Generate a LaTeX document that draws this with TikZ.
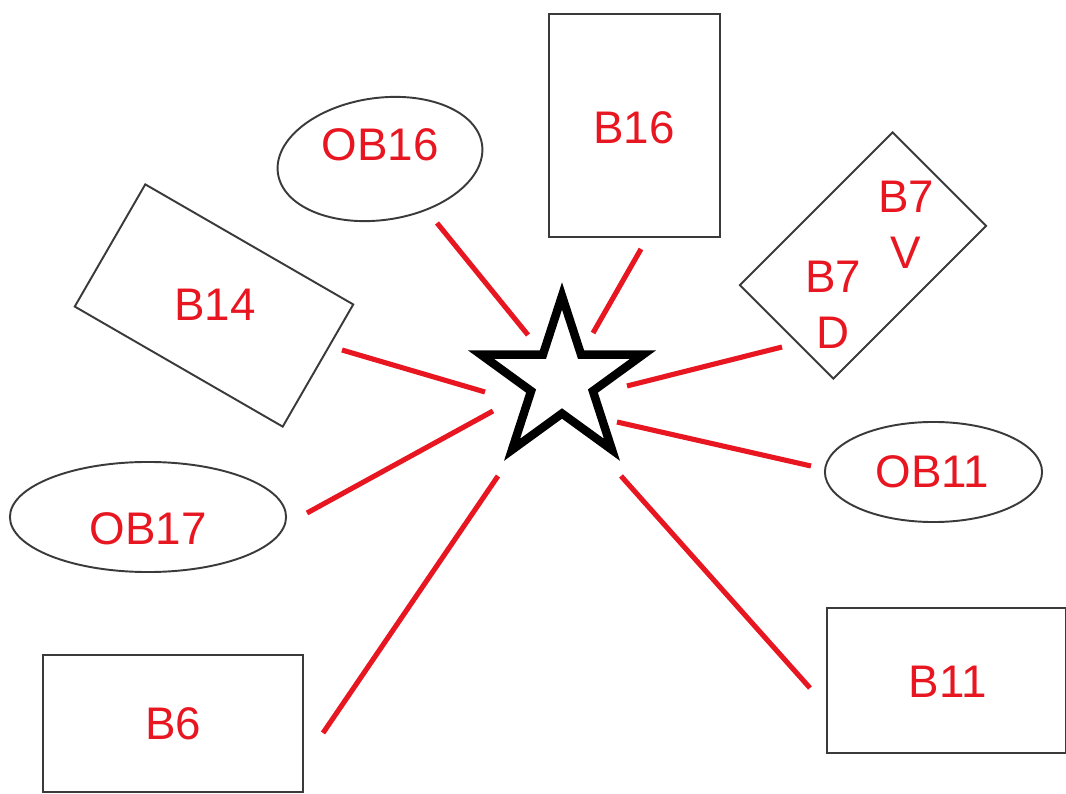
\documentclass[tikz,border=0pt]{standalone}
\usepackage{fontspec}
\setmainfont{Liberation Sans}
\usetikzlibrary{shapes.geometric}
\definecolor{linkred}{RGB}{232,22,32}
\definecolor{edgegray}{RGB}{58,58,58}

\begin{document}
\begin{tikzpicture}[x=0.01cm, y=-0.01cm,
  box/.style={draw=edgegray, line width=0.55pt, inner sep=0pt, outer sep=0pt},
  oval/.style={box, ellipse},
  tag/.style={text=linkred, font=\fontsize{13}{15.9}\selectfont, inner sep=0pt, align=center},
  link/.style={draw=linkred, line width=1.45pt},
]
\useasboundingbox (0,0) rectangle (1066,794);

% central star
\node[draw, line width=2.4pt, star, star points=5, star point ratio=2.618,
      minimum size=1.70cm, inner sep=0pt, outer sep=0pt] (hub) at (562,381) {};

% surrounding shapes
\node[oval, minimum width=2.06cm, minimum height=1.22cm, rotate=8] (ob16) at (380,159) {};
\node[box, minimum width=1.71cm, minimum height=2.23cm] (b16) at (634.5,125.5) {};
\node[box, minimum width=2.40cm, minimum height=1.41cm, rotate=-30] (b14) at (214,305.5) {};
\node[box, minimum width=2.16cm, minimum height=1.32cm, rotate=45] (b7) at (863,255.5) {};
\node[oval, minimum width=2.17cm, minimum height=1.00cm] (ob11) at (933.5,472) {};
\node[oval, minimum width=2.76cm, minimum height=1.10cm] (ob17) at (148,517) {};
\node[box, minimum width=2.60cm, minimum height=1.37cm] (b6) at (173,723.5) {};
\node[box, minimum width=2.38cm, minimum height=1.45cm] (b11) at (946.5,680.5) {};

% labels
\node[tag] (t-ob16) at (380,144.5) {OB16};
\node[tag] (t-b16) at (634,128) {B16};
\node[tag] (t-b14) at (215,305) {B14};
\node[tag, text depth=0pt] (t-b7v) at (906,225) {B7\\V};
\node[tag, text depth=0pt] (t-b7d) at (833,304.5) {B7\\D};
\node[tag] (t-ob11) at (932.5,472) {OB11};
\node[tag] (t-ob17) at (148,529) {OB17};
\node[tag] (t-b6) at (173,723.5) {B6};
\node[tag] (t-b11) at (947.5,681.5) {B11};

% connector end points
\coordinate (ob16-near) at (528,335);  \coordinate (ob16-far) at (437,223);
\coordinate (b16-near)  at (593,333);  \coordinate (b16-far)  at (641,249);
\coordinate (b14-near)  at (485,392);  \coordinate (b14-far)  at (342,350);
\coordinate (ob17-near) at (493,411);  \coordinate (ob17-far) at (307,513);
\coordinate (b6-near)   at (498,476);  \coordinate (b6-far)   at (323,733);
\coordinate (b7-near)   at (627,386);  \coordinate (b7-far)   at (782,347);
\coordinate (ob11-near) at (617,422);  \coordinate (ob11-far) at (811,466);
\coordinate (b11-near)  at (621,476);  \coordinate (b11-far)  at (810,688);

% connectors
\foreach \k in {ob16,b16,b14,ob17,b6,b7,ob11,b11}
  \draw[link] (\k-near) -- (\k-far);
\end{tikzpicture}
\end{document}
